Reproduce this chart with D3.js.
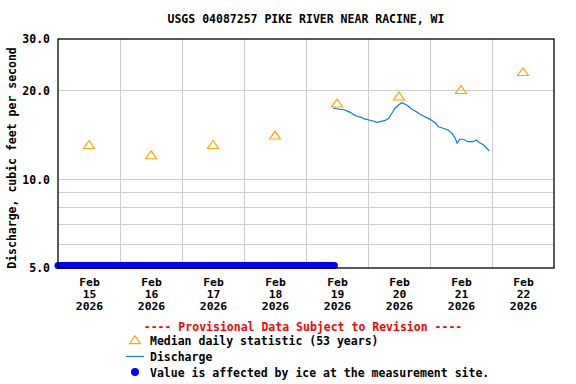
<!DOCTYPE html>
<html>
<head>
<meta charset="utf-8">
<script src="https://cdn.jsdelivr.net/npm/d3@7"></script>
<style>
  body { margin: 0; background: #fff; }
  svg text { font-family: "DejaVu Sans Mono", monospace; font-weight: bold; font-size: 11.5px; }
  svg text.tk { font-size: 10px; }
</style>
</head>
<body>
<svg id="chart" width="576" height="384"></svg>
<script>
// median daily statistic (53 years), one per day at noon
const medianDays = ["2026-02-15", "2026-02-16", "2026-02-17", "2026-02-18", "2026-02-19", "2026-02-20", "2026-02-21", "2026-02-22"];
const medianValues = [13.0, 12.0, 13.0, 14.0, 18.0, 19.0, 20.0, 23.0];

// discharge, cfs (provisional)
const dischargeTimes = [
  "2026-02-19 10:30", "2026-02-19 12:00", "2026-02-19 13:15", "2026-02-19 14:15", "2026-02-19 15:00",
  "2026-02-19 16:30", "2026-02-19 17:45", "2026-02-19 18:30", "2026-02-19 19:30", "2026-02-19 20:30",
  "2026-02-19 21:30", "2026-02-19 22:30", "2026-02-19 23:30", "2026-02-20 01:30", "2026-02-20 02:30",
  "2026-02-20 03:30", "2026-02-20 04:30", "2026-02-20 06:30", "2026-02-20 08:00", "2026-02-20 09:15",
  "2026-02-20 10:30", "2026-02-20 11:45", "2026-02-20 13:00", "2026-02-20 14:15", "2026-02-20 15:30",
  "2026-02-20 17:00", "2026-02-20 18:45", "2026-02-20 20:00", "2026-02-20 22:00", "2026-02-21 00:00",
  "2026-02-21 02:00", "2026-02-21 03:15", "2026-02-21 05:00", "2026-02-21 07:00", "2026-02-21 08:30",
  "2026-02-21 09:45", "2026-02-21 10:30", "2026-02-21 11:30", "2026-02-21 13:00", "2026-02-21 14:45",
  "2026-02-21 16:45", "2026-02-21 18:00", "2026-02-21 19:15", "2026-02-21 20:45", "2026-02-21 22:00",
  "2026-02-21 23:00"
];
const dischargeValues = [
  17.45, 17.38, 17.31, 17.28, 17.22,
  16.99, 16.78, 16.60, 16.43, 16.30,
  16.26, 16.05, 16.00, 15.83, 15.74,
  15.59, 15.71, 15.83, 16.13, 16.78,
  17.45, 17.90, 18.23, 18.04, 17.76,
  17.31, 16.99, 16.68, 16.33, 16.00,
  15.59, 15.10, 14.92, 14.72, 14.34,
  13.80, 13.27, 13.69, 13.69, 13.43,
  13.43, 13.61, 13.33, 13.09, 12.76,
  12.49
];

// period where the value is affected by ice
const iceTimes = ["2026-02-15 00:00", "2026-02-19 11:00"];
const iceValue = 5.1;

const yTicks = [5, 10, 20, 30];
const yGrid = [6, 7, 8, 9, 10, 20];

const W = 576, H = 384;
const margin = { top: 39, right: 22, bottom: 116, left: 58 };

const parseDay = d3.timeParse("%Y-%m-%d");
const parseTime = d3.timeParse("%Y-%m-%d %H:%M");

const svg = d3.select("#chart");

const x = d3.scaleTime()
  .domain([parseDay("2026-02-15"), parseDay("2026-02-23")])
  .range([margin.left, W - margin.right]);

const y = d3.scaleLog()
  .domain([5, 30])
  .range([H - margin.bottom, margin.top]);

const dayStarts = d3.timeDay.range(parseDay("2026-02-16"), parseDay("2026-02-23"));
const noons = medianDays.map(d => d3.timeHour.offset(parseDay(d), 12));

// grid
const grid = svg.append("g").attr("stroke", "#cccccc").attr("stroke-width", 1).attr("shape-rendering", "crispEdges");
grid.selectAll(".hg").data(yGrid).enter().append("line")
  .attr("x1", x.range()[0]).attr("x2", x.range()[1])
  .attr("y1", d => y(d)).attr("y2", d => y(d));
grid.selectAll(".vg").data(dayStarts).enter().append("line")
  .attr("x1", d => x(d)).attr("x2", d => x(d))
  .attr("y1", y.range()[0]).attr("y2", y.range()[1]);

// discharge line
const line = d3.line()
  .x(d => x(d.t))
  .y(d => y(d.v));
const discharge = dischargeTimes.map((t, i) => ({ t: parseTime(t), v: dischargeValues[i] }));
svg.append("path")
  .datum(discharge)
  .attr("fill", "none")
  .attr("stroke", "#0a7fd4")
  .attr("stroke-width", 1.2)
  .attr("d", line);

// median triangles
const tri = d3.symbol().type(d3.symbolTriangle).size(40);
svg.append("g").selectAll("path")
  .data(medianValues)
  .enter().append("path")
  .attr("d", tri)
  .attr("transform", (d, i) => `translate(${x(noons[i])},${y(d)}) scale(1.15,0.95)`)
  .attr("fill", "none")
  .attr("stroke", "#ffa500")
  .attr("stroke-width", 1.1);

// ice band
svg.append("line")
  .attr("x1", x(parseTime(iceTimes[0])))
  .attr("x2", x(parseTime(iceTimes[1])))
  .attr("y1", y(iceValue)).attr("y2", y(iceValue))
  .attr("stroke", "#0000ff")
  .attr("stroke-width", 7)
  .attr("stroke-linecap", "round");

// frame
svg.append("rect")
  .attr("x", x.range()[0]).attr("y", y.range()[1])
  .attr("width", x.range()[1] - x.range()[0])
  .attr("height", y.range()[0] - y.range()[1])
  .attr("fill", "none").attr("stroke", "#000").attr("stroke-width", 1.3);

// y axis
const yAxis = svg.append("g")
  .attr("transform", `translate(${margin.left},0)`)
  .call(d3.axisLeft(y).tickValues(yTicks).tickFormat(d3.format(".1f")).tickSize(0).tickPadding(8));
yAxis.select(".domain").remove();
yAxis.selectAll("text").attr("fill", "#000").attr("font-size", null).attr("font-family", null);

// x axis, three-line labels drawn as separate texts per tick
const xAxis = svg.append("g")
  .attr("transform", `translate(0,${H - margin.bottom})`)
  .call(d3.axisBottom(x).tickValues(noons).tickSize(0).tickFormat(""));
xAxis.select(".domain").remove();
xAxis.selectAll(".tick text").remove();
const fmts = [d3.timeFormat("%b"), d3.timeFormat("%d"), d3.timeFormat("%Y")];
xAxis.selectAll(".tick").each(function (d) {
  const g = d3.select(this);
  fmts.forEach((f, k) => {
    g.append("g")
      .attr("transform", `translate(0,${18 + k * 12}) scale(1.14,1)`)
      .append("text")
      .attr("class", "tk")
      .attr("text-anchor", "middle")
      .attr("fill", "#000")
      .text(f(d));
  });
});

// title
svg.append("text")
  .attr("x", 306).attr("y", 23)
  .attr("text-anchor", "middle")
  .text("USGS 04087257 PIKE RIVER NEAR RACINE, WI");

// y title
svg.append("text")
  .attr("transform", "translate(16,158) rotate(-90)")
  .attr("text-anchor", "middle")
  .text("Discharge, cubic feet per second");

// legend
svg.append("text")
  .attr("x", 303).attr("y", 331)
  .attr("text-anchor", "middle")
  .attr("fill", "#ff0000")
  .text("---- Provisional Data Subject to Revision ----");

const legend = svg.append("g");
legend.append("path")
  .attr("d", tri)
  .attr("transform", "translate(135,341) scale(1.15,0.95)")
  .attr("fill", "none").attr("stroke", "#ffa500").attr("stroke-width", 1.1);
legend.append("text").attr("x", 150).attr("y", 345).text("Median daily statistic (53 years)");

legend.append("line")
  .attr("x1", 126).attr("x2", 144).attr("y1", 356.5).attr("y2", 356.5)
  .attr("stroke", "#0a7fd4").attr("stroke-width", 1.2);
legend.append("text").attr("x", 150).attr("y", 361).text("Discharge");

legend.append("circle")
  .attr("cx", 135).attr("cy", 372).attr("r", 4)
  .attr("fill", "#0000ff");
legend.append("text").attr("x", 150).attr("y", 377).text("Value is affected by ice at the measurement site.");
</script>
</body>
</html>
